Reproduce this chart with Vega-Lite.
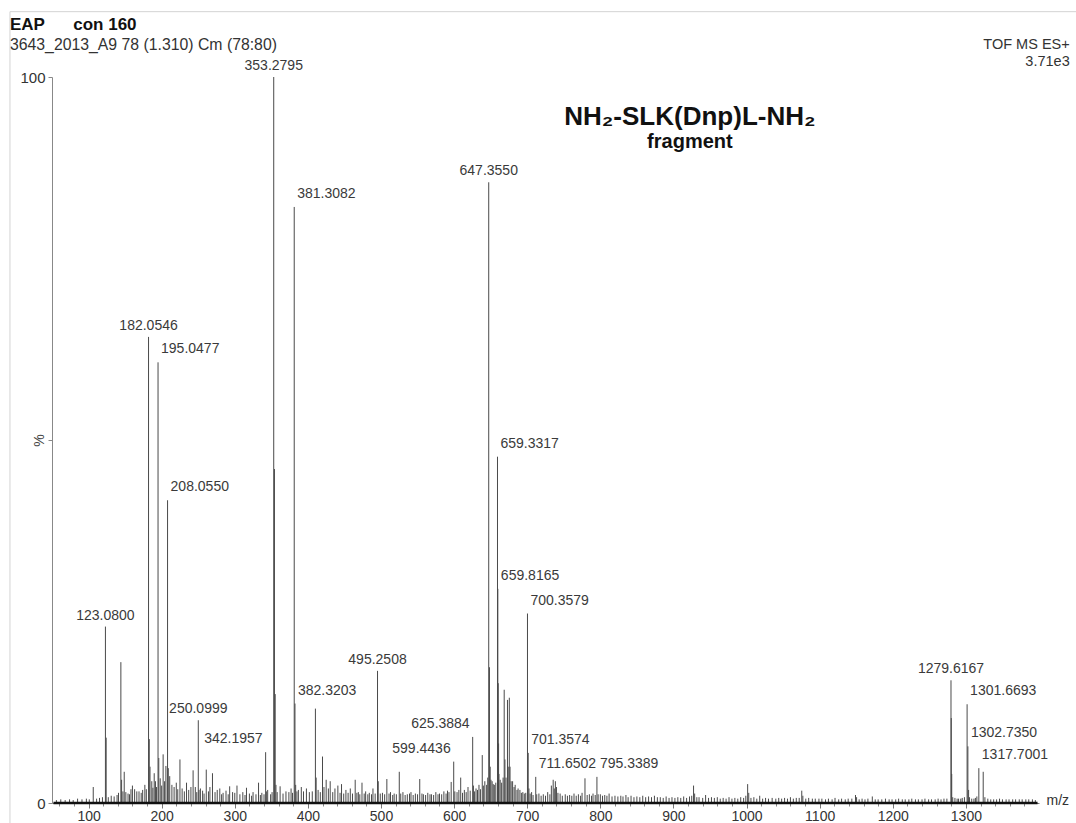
{
  "$schema": "https://vega.github.io/schema/vega-lite/v6.json",
  "width": 987,
  "height": 726,
  "autosize": {"type": "none"},
  "padding": {"left": 52, "top": 77, "right": 37, "bottom": 20},
  "background": "white",
  "config": {
    "font": "Liberation Sans",
    "view": {"stroke": null},
    "axis": {"grid": false, "labelFont": "Liberation Sans", "titleFont": "Liberation Sans"}
  },
  "datasets": {
    "peaks": [
      {"mz": 56, "pct": 0.4}, {"mz": 62, "pct": 0.5}, {"mz": 68, "pct": 0.4}, {"mz": 74, "pct": 0.5}, {"mz": 79, "pct": 0.4},
      {"mz": 85, "pct": 0.6}, {"mz": 91, "pct": 0.5}, {"mz": 97, "pct": 0.6}, {"mz": 101, "pct": 0.5}, {"mz": 106.4, "pct": 2.2},
      {"mz": 111, "pct": 0.6}, {"mz": 115, "pct": 0.7}, {"mz": 119, "pct": 0.8},
      {"mz": 123.08, "pct": 24.3}, {"mz": 124.08, "pct": 9.0}, {"mz": 127, "pct": 0.8}, {"mz": 131, "pct": 1.0}, {"mz": 135, "pct": 0.9},
      {"mz": 139, "pct": 1.1}, {"mz": 141, "pct": 1.4}, {"mz": 144.2, "pct": 19.4}, {"mz": 145.2, "pct": 3.2}, {"mz": 147, "pct": 1.6},
      {"mz": 148.8, "pct": 4.3}, {"mz": 151, "pct": 1.5}, {"mz": 154, "pct": 1.3}, {"mz": 156, "pct": 1.2}, {"mz": 158, "pct": 1.9},
      {"mz": 160, "pct": 2.4}, {"mz": 163, "pct": 1.9}, {"mz": 166, "pct": 1.6}, {"mz": 169, "pct": 1.6}, {"mz": 172, "pct": 1.4},
      {"mz": 174, "pct": 1.8}, {"mz": 177, "pct": 2.5}, {"mz": 179, "pct": 1.9},
      {"mz": 182.0546, "pct": 64.2}, {"mz": 183.06, "pct": 8.8}, {"mz": 184.06, "pct": 5.0}, {"mz": 186.5, "pct": 3.0}, {"mz": 188, "pct": 2.1},
      {"mz": 189.8, "pct": 4.1}, {"mz": 191.5, "pct": 3.0}, {"mz": 193, "pct": 2.2},
      {"mz": 195.0477, "pct": 60.7}, {"mz": 196.05, "pct": 6.2}, {"mz": 198, "pct": 3.4}, {"mz": 200, "pct": 2.4}, {"mz": 202, "pct": 6.7},
      {"mz": 204, "pct": 3.0}, {"mz": 205.8, "pct": 5.1},
      {"mz": 208.055, "pct": 41.7}, {"mz": 209.06, "pct": 4.8}, {"mz": 211, "pct": 3.7}, {"mz": 214, "pct": 2.5}, {"mz": 217, "pct": 2.2},
      {"mz": 220, "pct": 2.8}, {"mz": 222, "pct": 1.9}, {"mz": 225, "pct": 6.0}, {"mz": 228, "pct": 2.0}, {"mz": 231, "pct": 1.6},
      {"mz": 234, "pct": 2.8}, {"mz": 237, "pct": 1.8}, {"mz": 240, "pct": 2.2}, {"mz": 243, "pct": 4.5}, {"mz": 246, "pct": 2.2},
      {"mz": 248, "pct": 1.5},
      {"mz": 250.0999, "pct": 11.4}, {"mz": 251.1, "pct": 1.8}, {"mz": 253, "pct": 2.0}, {"mz": 256, "pct": 1.7}, {"mz": 258, "pct": 1.3},
      {"mz": 261, "pct": 4.6}, {"mz": 264, "pct": 1.6}, {"mz": 266, "pct": 2.2}, {"mz": 269.5, "pct": 4.1}, {"mz": 273, "pct": 1.5},
      {"mz": 276, "pct": 1.8}, {"mz": 279.5, "pct": 2.0}, {"mz": 282, "pct": 1.2}, {"mz": 284, "pct": 1.4}, {"mz": 288, "pct": 1.7},
      {"mz": 291, "pct": 1.2}, {"mz": 293, "pct": 2.3}, {"mz": 297, "pct": 1.5}, {"mz": 300, "pct": 1.4}, {"mz": 303, "pct": 2.4},
      {"mz": 307, "pct": 1.2}, {"mz": 311, "pct": 1.5}, {"mz": 314, "pct": 1.1}, {"mz": 316, "pct": 2.1}, {"mz": 320, "pct": 1.3},
      {"mz": 323, "pct": 1.0}, {"mz": 325, "pct": 1.5}, {"mz": 329, "pct": 1.2}, {"mz": 332.5, "pct": 2.8}, {"mz": 335, "pct": 1.1},
      {"mz": 337, "pct": 1.4}, {"mz": 340, "pct": 1.2},
      {"mz": 342.1957, "pct": 7.0}, {"mz": 343.2, "pct": 1.6}, {"mz": 345, "pct": 1.8}, {"mz": 349, "pct": 1.2}, {"mz": 351, "pct": 1.5},
      {"mz": 353.2795, "pct": 100}, {"mz": 354.28, "pct": 46.0}, {"mz": 355.29, "pct": 15.0}, {"mz": 356.3, "pct": 2.5}, {"mz": 358, "pct": 1.5},
      {"mz": 362, "pct": 2.3}, {"mz": 366, "pct": 1.3}, {"mz": 370, "pct": 1.6}, {"mz": 374, "pct": 1.5}, {"mz": 377, "pct": 2.0},
      {"mz": 379, "pct": 1.4},
      {"mz": 381.3082, "pct": 82.1}, {"mz": 382.3203, "pct": 13.7}, {"mz": 383.3, "pct": 2.5}, {"mz": 385, "pct": 1.6}, {"mz": 387, "pct": 1.8},
      {"mz": 391, "pct": 2.2}, {"mz": 394, "pct": 1.6}, {"mz": 398, "pct": 2.0}, {"mz": 402, "pct": 1.5}, {"mz": 406, "pct": 1.6},
      {"mz": 410.3, "pct": 13.0}, {"mz": 411.3, "pct": 3.5}, {"mz": 414, "pct": 1.8}, {"mz": 417, "pct": 1.5}, {"mz": 420, "pct": 6.4},
      {"mz": 422, "pct": 2.2}, {"mz": 425, "pct": 3.2}, {"mz": 428, "pct": 2.0}, {"mz": 430.5, "pct": 3.0}, {"mz": 434, "pct": 1.5},
      {"mz": 437, "pct": 2.0}, {"mz": 441, "pct": 2.4}, {"mz": 444, "pct": 1.4}, {"mz": 446, "pct": 2.6}, {"mz": 449, "pct": 1.3},
      {"mz": 452, "pct": 1.8}, {"mz": 455, "pct": 1.4}, {"mz": 458, "pct": 2.0}, {"mz": 461, "pct": 1.3}, {"mz": 464.7, "pct": 3.2},
      {"mz": 467, "pct": 1.4}, {"mz": 469, "pct": 1.5}, {"mz": 471, "pct": 1.2}, {"mz": 474, "pct": 2.8}, {"mz": 477, "pct": 1.3},
      {"mz": 479, "pct": 1.6}, {"mz": 482, "pct": 1.2}, {"mz": 484, "pct": 1.4}, {"mz": 487, "pct": 1.2}, {"mz": 489, "pct": 2.0},
      {"mz": 492, "pct": 1.3},
      {"mz": 495.2508, "pct": 18.2}, {"mz": 496.25, "pct": 3.0}, {"mz": 499, "pct": 1.3}, {"mz": 502, "pct": 1.4}, {"mz": 505, "pct": 1.2},
      {"mz": 508, "pct": 3.3}, {"mz": 511, "pct": 1.3}, {"mz": 513, "pct": 1.5}, {"mz": 516, "pct": 1.1}, {"mz": 518, "pct": 1.3},
      {"mz": 521, "pct": 1.2}, {"mz": 525, "pct": 4.3}, {"mz": 527, "pct": 1.3}, {"mz": 530, "pct": 1.5}, {"mz": 533, "pct": 1.1},
      {"mz": 536, "pct": 1.2}, {"mz": 539, "pct": 1.3}, {"mz": 541, "pct": 1.5}, {"mz": 544, "pct": 1.1}, {"mz": 547, "pct": 1.3},
      {"mz": 550, "pct": 1.2}, {"mz": 553, "pct": 3.3}, {"mz": 556, "pct": 1.3}, {"mz": 558, "pct": 1.2}, {"mz": 561, "pct": 1.1},
      {"mz": 564, "pct": 1.4}, {"mz": 567, "pct": 1.2}, {"mz": 569, "pct": 1.2}, {"mz": 572, "pct": 1.1}, {"mz": 575, "pct": 1.5},
      {"mz": 578, "pct": 1.2}, {"mz": 580, "pct": 1.3}, {"mz": 583, "pct": 1.2}, {"mz": 586, "pct": 1.6}, {"mz": 589, "pct": 1.3},
      {"mz": 591, "pct": 1.7}, {"mz": 593, "pct": 1.5}, {"mz": 596, "pct": 2.9},
      {"mz": 599.4436, "pct": 5.7}, {"mz": 601, "pct": 1.6}, {"mz": 604, "pct": 1.5}, {"mz": 606.5, "pct": 1.8}, {"mz": 609, "pct": 3.5},
      {"mz": 611.5, "pct": 1.4}, {"mz": 614, "pct": 1.8}, {"mz": 616.5, "pct": 1.5}, {"mz": 619, "pct": 2.2}, {"mz": 622, "pct": 1.7},
      {"mz": 625.3884, "pct": 9.1}, {"mz": 626.4, "pct": 2.4}, {"mz": 628, "pct": 1.6}, {"mz": 630, "pct": 2.0}, {"mz": 632, "pct": 1.8},
      {"mz": 634, "pct": 2.5}, {"mz": 636, "pct": 1.9}, {"mz": 638.5, "pct": 6.6}, {"mz": 640, "pct": 2.4}, {"mz": 642, "pct": 3.0},
      {"mz": 644.5, "pct": 2.5}, {"mz": 646, "pct": 3.5},
      {"mz": 647.355, "pct": 85.5}, {"mz": 648.36, "pct": 18.7}, {"mz": 649.36, "pct": 5.0}, {"mz": 650.4, "pct": 3.2}, {"mz": 652, "pct": 3.0},
      {"mz": 653.5, "pct": 2.6}, {"mz": 655, "pct": 2.5}, {"mz": 657, "pct": 2.8},
      {"mz": 659.3317, "pct": 47.7}, {"mz": 659.8165, "pct": 29.5}, {"mz": 660.33, "pct": 16.5}, {"mz": 660.83, "pct": 8.2}, {"mz": 661.33, "pct": 4.0},
      {"mz": 663, "pct": 3.2}, {"mz": 665, "pct": 2.8}, {"mz": 667, "pct": 3.5}, {"mz": 668.5, "pct": 15.6}, {"mz": 669.5, "pct": 6.0},
      {"mz": 671, "pct": 3.5}, {"mz": 673, "pct": 14.2}, {"mz": 674, "pct": 5.0}, {"mz": 675.5, "pct": 14.5}, {"mz": 676.5, "pct": 5.0},
      {"mz": 678, "pct": 3.0}, {"mz": 680, "pct": 3.0}, {"mz": 682, "pct": 2.2}, {"mz": 683.5, "pct": 2.5}, {"mz": 686, "pct": 1.8},
      {"mz": 687.5, "pct": 2.0}, {"mz": 690, "pct": 1.8}, {"mz": 692, "pct": 1.4}, {"mz": 694, "pct": 1.5}, {"mz": 696, "pct": 1.3},
      {"mz": 698, "pct": 1.4},
      {"mz": 700.3579, "pct": 26.1}, {"mz": 701.3574, "pct": 6.9}, {"mz": 702.36, "pct": 2.0}, {"mz": 704, "pct": 1.3}, {"mz": 706, "pct": 1.5},
      {"mz": 708, "pct": 1.1}, {"mz": 711.6502, "pct": 3.6}, {"mz": 713, "pct": 1.2}, {"mz": 716, "pct": 1.3}, {"mz": 719, "pct": 1.0},
      {"mz": 722, "pct": 1.2}, {"mz": 725, "pct": 1.0}, {"mz": 728, "pct": 1.5}, {"mz": 731, "pct": 1.2}, {"mz": 733, "pct": 2.4},
      {"mz": 735.5, "pct": 3.2}, {"mz": 737, "pct": 2.0}, {"mz": 738.5, "pct": 3.0}, {"mz": 740, "pct": 2.2}, {"mz": 742, "pct": 1.4},
      {"mz": 745, "pct": 1.3}, {"mz": 748, "pct": 1.0}, {"mz": 752, "pct": 1.2}, {"mz": 755, "pct": 1.0}, {"mz": 758, "pct": 1.1},
      {"mz": 761, "pct": 1.0}, {"mz": 764, "pct": 1.3}, {"mz": 767, "pct": 1.0}, {"mz": 770, "pct": 1.2}, {"mz": 773, "pct": 1.0},
      {"mz": 775, "pct": 1.4}, {"mz": 779, "pct": 3.4}, {"mz": 782, "pct": 1.1}, {"mz": 785, "pct": 1.2}, {"mz": 788, "pct": 1.0},
      {"mz": 790, "pct": 1.3}, {"mz": 793, "pct": 1.1},
      {"mz": 795.3389, "pct": 3.6}, {"mz": 797, "pct": 1.2}, {"mz": 800, "pct": 1.2}, {"mz": 803, "pct": 1.0}, {"mz": 806, "pct": 1.1},
      {"mz": 809, "pct": 1.0}, {"mz": 812, "pct": 1.3}, {"mz": 816, "pct": 0.9}, {"mz": 820, "pct": 1.0}, {"mz": 824, "pct": 0.9},
      {"mz": 828, "pct": 1.0}, {"mz": 831, "pct": 0.9}, {"mz": 835, "pct": 1.1}, {"mz": 838, "pct": 0.8}, {"mz": 842, "pct": 1.0},
      {"mz": 846, "pct": 0.8}, {"mz": 850, "pct": 0.9}, {"mz": 854, "pct": 0.8}, {"mz": 858, "pct": 1.0}, {"mz": 862, "pct": 0.8},
      {"mz": 866, "pct": 0.9}, {"mz": 870, "pct": 0.8}, {"mz": 874, "pct": 1.0}, {"mz": 878, "pct": 0.8}, {"mz": 882, "pct": 0.8},
      {"mz": 886, "pct": 0.7}, {"mz": 890, "pct": 0.9}, {"mz": 894, "pct": 0.7}, {"mz": 898, "pct": 0.8}, {"mz": 902, "pct": 0.7},
      {"mz": 906, "pct": 0.8}, {"mz": 910, "pct": 0.7}, {"mz": 914, "pct": 0.9}, {"mz": 918, "pct": 0.7}, {"mz": 922, "pct": 0.9},
      {"mz": 925, "pct": 1.0}, {"mz": 927.5, "pct": 2.4}, {"mz": 929, "pct": 1.3}, {"mz": 932, "pct": 0.8}, {"mz": 935, "pct": 0.8},
      {"mz": 940, "pct": 0.7}, {"mz": 944, "pct": 1.1}, {"mz": 948, "pct": 0.7}, {"mz": 952, "pct": 0.8}, {"mz": 956, "pct": 0.7},
      {"mz": 960, "pct": 0.8}, {"mz": 964, "pct": 0.6}, {"mz": 968, "pct": 0.7}, {"mz": 972, "pct": 0.6}, {"mz": 976, "pct": 0.8},
      {"mz": 980, "pct": 0.6}, {"mz": 984, "pct": 0.7}, {"mz": 988, "pct": 0.6}, {"mz": 992, "pct": 0.8}, {"mz": 996, "pct": 0.7},
      {"mz": 999, "pct": 1.0}, {"mz": 1001.5, "pct": 2.6}, {"mz": 1003, "pct": 1.4}, {"mz": 1006, "pct": 0.7}, {"mz": 1010, "pct": 0.8},
      {"mz": 1014, "pct": 0.6}, {"mz": 1018, "pct": 1.0}, {"mz": 1022, "pct": 0.6}, {"mz": 1026, "pct": 0.7}, {"mz": 1030, "pct": 0.6},
      {"mz": 1035, "pct": 0.7}, {"mz": 1040, "pct": 0.6}, {"mz": 1044, "pct": 0.7}, {"mz": 1048, "pct": 0.6}, {"mz": 1052, "pct": 0.7},
      {"mz": 1056, "pct": 0.6}, {"mz": 1060, "pct": 0.8}, {"mz": 1064, "pct": 0.6}, {"mz": 1068, "pct": 0.7}, {"mz": 1072, "pct": 0.7},
      {"mz": 1075.5, "pct": 1.7}, {"mz": 1077, "pct": 1.0}, {"mz": 1081, "pct": 0.6}, {"mz": 1085, "pct": 0.7}, {"mz": 1090, "pct": 0.6},
      {"mz": 1094, "pct": 0.6}, {"mz": 1099, "pct": 0.6}, {"mz": 1103, "pct": 0.6}, {"mz": 1108, "pct": 0.5}, {"mz": 1112, "pct": 0.6},
      {"mz": 1117, "pct": 0.5}, {"mz": 1121, "pct": 0.7}, {"mz": 1126, "pct": 0.5}, {"mz": 1130, "pct": 0.6}, {"mz": 1135, "pct": 0.5},
      {"mz": 1139, "pct": 0.6}, {"mz": 1144, "pct": 0.6}, {"mz": 1149, "pct": 1.1}, {"mz": 1150.5, "pct": 0.8}, {"mz": 1154, "pct": 0.5},
      {"mz": 1158, "pct": 0.6}, {"mz": 1162, "pct": 0.5}, {"mz": 1166, "pct": 0.6}, {"mz": 1172, "pct": 0.9}, {"mz": 1176, "pct": 0.5},
      {"mz": 1180, "pct": 0.5}, {"mz": 1185, "pct": 0.5}, {"mz": 1190, "pct": 0.6}, {"mz": 1195, "pct": 0.5}, {"mz": 1199, "pct": 0.5},
      {"mz": 1204, "pct": 0.5}, {"mz": 1208, "pct": 0.6}, {"mz": 1213, "pct": 0.5}, {"mz": 1217, "pct": 0.5}, {"mz": 1222, "pct": 0.5},
      {"mz": 1226, "pct": 0.6}, {"mz": 1231, "pct": 0.5}, {"mz": 1235, "pct": 0.5}, {"mz": 1240, "pct": 0.5}, {"mz": 1244, "pct": 0.6},
      {"mz": 1249, "pct": 0.5}, {"mz": 1253, "pct": 0.5}, {"mz": 1258, "pct": 0.5}, {"mz": 1262, "pct": 0.6}, {"mz": 1266, "pct": 0.5},
      {"mz": 1270, "pct": 0.6}, {"mz": 1274, "pct": 0.6},
      {"mz": 1279.6167, "pct": 16.9}, {"mz": 1280.0, "pct": 11.7}, {"mz": 1280.62, "pct": 4.0}, {"mz": 1282, "pct": 0.8}, {"mz": 1285, "pct": 0.7},
      {"mz": 1288, "pct": 0.6}, {"mz": 1290, "pct": 0.6}, {"mz": 1293, "pct": 0.6}, {"mz": 1295, "pct": 0.7}, {"mz": 1298, "pct": 0.8},
      {"mz": 1301.6693, "pct": 13.6}, {"mz": 1302.735, "pct": 7.8}, {"mz": 1303.7, "pct": 1.8}, {"mz": 1305, "pct": 0.8}, {"mz": 1308, "pct": 0.6},
      {"mz": 1311, "pct": 0.6}, {"mz": 1313, "pct": 0.7}, {"mz": 1315, "pct": 0.9},
      {"mz": 1317.7001, "pct": 4.8}, {"mz": 1323.7, "pct": 4.3}, {"mz": 1326, "pct": 0.8}, {"mz": 1330, "pct": 0.6}, {"mz": 1334, "pct": 0.5},
      {"mz": 1338, "pct": 0.5}, {"mz": 1342, "pct": 0.5}, {"mz": 1346, "pct": 0.6}, {"mz": 1350, "pct": 0.5}, {"mz": 1355, "pct": 0.5},
      {"mz": 1359, "pct": 0.5}, {"mz": 1364, "pct": 0.5}, {"mz": 1368, "pct": 0.5}, {"mz": 1373, "pct": 0.5}, {"mz": 1377, "pct": 0.5},
      {"mz": 1382, "pct": 0.5}, {"mz": 1386, "pct": 0.5}, {"mz": 1391, "pct": 0.5}, {"mz": 1395, "pct": 0.4}
    ]
  },
  "resolve": {"axis": {"x": "independent"}},
  "layer": [
    {
      "data": {"values": [{}]},
      "mark": {"type": "rule", "stroke": "#d4d4d4", "strokeWidth": 1},
      "encoding": {
        "x": {"datum": -7.5, "type": "quantitative", "axis": null},
        "x2": {"datum": 1460},
        "y": {"datum": 109, "type": "quantitative"}
      }
    },
    {
      "data": {"values": [{}]},
      "mark": {"type": "rule", "stroke": "#d4d4d4", "strokeWidth": 1},
      "encoding": {
        "x": {"datum": -7.5, "type": "quantitative", "axis": null},
        "y": {"datum": 109, "type": "quantitative"},
        "y2": {"datum": -4}
      }
    },
    {
      "data": {"name": "peaks"},
      "mark": {"type": "rule", "stroke": "#4a4a4a", "strokeWidth": 1},
      "encoding": {
        "x": {
          "field": "mz", "type": "quantitative",
          "scale": {"domain": [50, 1400], "nice": false, "zero": false},
          "axis": {
            "orient": "bottom",
            "values": [100, 200, 300, 400, 500, 600, 700, 800, 900, 1000, 1100, 1200, 1300],
            "format": "d",
            "domain": true, "domainColor": "#777777", "domainWidth": 1,
            "ticks": true, "tickSize": 5, "tickColor": "#777777",
            "labelFontSize": 14, "labelColor": "#333333", "labelPadding": 1,
            "title": "m/z", "titleFontSize": 14, "titleFontWeight": "normal", "titleColor": "#333333",
            "titleAlign": "left", "titleBaseline": "middle", "titleX": 994, "titleY": -3
          }
        },
        "y": {
          "field": "pct", "type": "quantitative",
          "scale": {"domain": [0, 100], "nice": false, "zero": false},
          "axis": {
            "values": [0, 50, 100],
            "labelExpr": "datum.value == 50 ? '' : datum.label",
            "domain": true, "domainColor": "#888888",
            "ticks": true, "tickSize": 4, "tickColor": "#888888",
            "labelFontSize": 15, "labelColor": "#333333", "labelPadding": 3,
            "title": "%", "titleFontSize": 14, "titleFontWeight": "normal", "titleColor": "#444444",
            "titleAngle": -90, "titleAlign": "center", "titleBaseline": "middle", "titleX": -13, "titleY": 363
          }
        },
        "y2": {"datum": 0}
      }
    },
    {
      "data": {"values": [{}]},
      "mark": {"type": "rule", "stroke": "#111111", "strokeWidth": 2.5},
      "encoding": {
        "x": {
          "datum": 52, "type": "quantitative",
          "axis": {
            "orient": "bottom",
            "values": [60, 80, 120, 140, 160, 180, 220, 240, 260, 280, 320, 340, 360, 380, 420, 440, 460, 480, 520, 540, 560, 580, 620, 640, 660, 680, 720, 740, 760, 780, 820, 840, 860, 880, 920, 940, 960, 980, 1020, 1040, 1060, 1080, 1120, 1140, 1160, 1180, 1220, 1240, 1260, 1280, 1320, 1340, 1360, 1380],
            "labels": false, "domain": false, "ticks": true, "tickSize": 3, "tickColor": "#888888", "title": null
          }
        },
        "x2": {"datum": 1398},
        "y": {"datum": 0, "type": "quantitative"}
      }
    },
    {
      "data": {"name": "peaks"},
      "transform": [{"filter": {"field": "mz", "oneOf": [123.08, 182.0546, 250.0999, 353.2795, 495.2508, 647.355, 1279.6167]}}],
      "mark": {"type": "text", "align": "center", "baseline": "middle", "dy": -11, "fontSize": 14, "fill": "#3a3a3a"},
      "encoding": {
        "x": {"field": "mz", "type": "quantitative", "axis": null},
        "y": {"field": "pct", "type": "quantitative"},
        "text": {"field": "mz", "type": "quantitative", "format": ".4f"}
      }
    },
    {
      "data": {"name": "peaks"},
      "transform": [{"filter": {"field": "mz", "oneOf": [195.0477, 208.055, 381.3082, 382.3203, 659.3317, 659.8165, 700.3579, 701.3574, 711.6502, 795.3389, 1301.6693, 1302.735, 1317.7001]}}],
      "mark": {"type": "text", "align": "left", "baseline": "middle", "dx": 3, "dy": -13, "fontSize": 14, "fill": "#3a3a3a"},
      "encoding": {
        "x": {"field": "mz", "type": "quantitative", "axis": null},
        "y": {"field": "pct", "type": "quantitative"},
        "text": {"field": "mz", "type": "quantitative", "format": ".4f"}
      }
    },
    {
      "data": {"name": "peaks"},
      "transform": [{"filter": {"field": "mz", "oneOf": [342.1957, 599.4436, 625.3884]}}],
      "mark": {"type": "text", "align": "right", "baseline": "middle", "dx": -3, "dy": -13, "fontSize": 14, "fill": "#3a3a3a"},
      "encoding": {
        "x": {"field": "mz", "type": "quantitative", "axis": null},
        "y": {"field": "pct", "type": "quantitative"},
        "text": {"field": "mz", "type": "quantitative", "format": ".4f"}
      }
    },
    {
      "data": {"values": [{}]},
      "mark": {"type": "text", "align": "left", "baseline": "middle", "fontSize": 17, "fontWeight": "bold", "fill": "#111111", "text": "EAP\u00a0\u00a0\u00a0\u00a0\u00a0 con 160"},
      "encoding": {
        "x": {"datum": -7.5, "type": "quantitative", "axis": null},
        "y": {"datum": 107.2, "type": "quantitative"}
      }
    },
    {
      "data": {"values": [{}]},
      "mark": {"type": "text", "align": "left", "baseline": "middle", "fontSize": 15.8, "fill": "#333333", "text": "3643_2013_A9 78 (1.310) Cm (78:80)"},
      "encoding": {
        "x": {"datum": -7.5, "type": "quantitative", "axis": null},
        "y": {"datum": 104.4, "type": "quantitative"}
      }
    },
    {
      "data": {"values": [{}]},
      "mark": {"type": "text", "align": "right", "baseline": "middle", "fontSize": 14.5, "lineHeight": 17, "fill": "#333333", "text": ["TOF MS ES+", "3.71e3"]},
      "encoding": {
        "x": {"datum": 1442, "type": "quantitative", "axis": null},
        "y": {"datum": 104.4, "type": "quantitative"}
      }
    },
    {
      "data": {"values": [{}]},
      "mark": {"type": "text", "align": "center", "baseline": "middle", "fontSize": 26, "fontWeight": "bold", "fill": "#111111", "text": "NH₂-SLK(Dnp)L-NH₂"},
      "encoding": {
        "x": {"datum": 922.5, "type": "quantitative", "axis": null},
        "y": {"datum": 94.5, "type": "quantitative"}
      }
    },
    {
      "data": {"values": [{}]},
      "mark": {"type": "text", "align": "center", "baseline": "middle", "fontSize": 20, "fontWeight": "bold", "fill": "#111111", "text": "fragment"},
      "encoding": {
        "x": {"datum": 922.5, "type": "quantitative", "axis": null},
        "y": {"datum": 91.0, "type": "quantitative"}
      }
    }
  ]
}
